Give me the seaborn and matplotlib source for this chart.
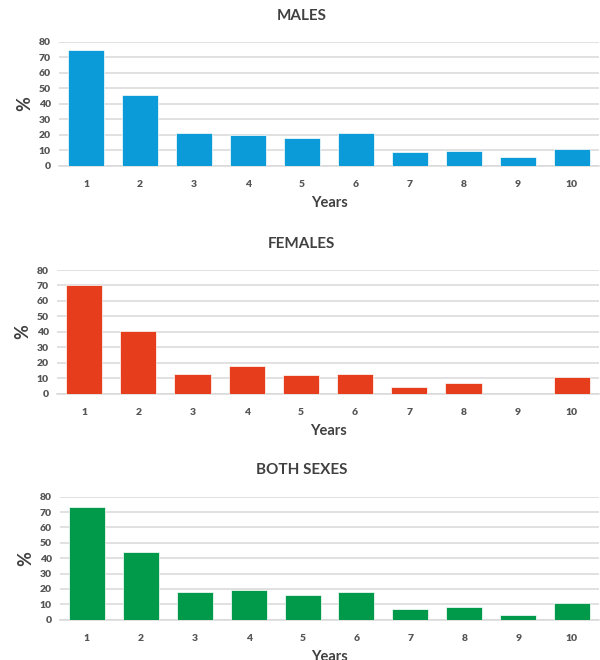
import matplotlib
matplotlib.use("Agg")
import matplotlib.pyplot as plt
import seaborn as sns
import pandas as pd

years = ["1", "2", "3", "4", "5", "6", "7", "8", "9", "10"]
males = [74.5, 45.6, 20.9, 19.6, 18.1, 21.1, 8.8, 9.7, 5.6, 10.5]
females = [70.3, 40.8, 12.8, 18.1, 12.0, 12.9, 4.2, 6.6, 0.0, 11.1]
both = [73.0, 44.2, 18.2, 19.1, 15.9, 18.2, 7.2, 8.4, 3.1, 10.6]
titles = ["MALES", "FEMALES", "BOTH SEXES"]
colors = ["#0A9BD8", "#E63E1C", "#009A4A"]
yticks = [0, 10, 20, 30, 40, 50, 60, 70, 80]

sns.set_theme(style="white")
plt.rcParams["font.family"] = ["Lato", "DejaVu Sans"]

fig = plt.figure(figsize=(6.0, 6.6), dpi=100)
H = 660.0
# (left px, right px, top px, bottom px, title y px)
boxes = [
    (59, 599, 41.7, 165.7, 16),
    (57, 599, 270.0, 393.7, 244),
    (60, 599, 496.7, 619.7, 470),
]
text_col = "#404040"
tick_col = "#555555"
grid_col = "#D9D9D9"

for vals, title, col, (l, r, t, b, ty) in zip([males, females, both], titles, colors, boxes):
    ax = fig.add_axes([l / 600.0, 1 - b / H, (r - l) / 600.0, (b - t) / H])
    df = pd.DataFrame({"Years": years, "pct": vals})
    sns.barplot(data=df, x="Years", y="pct", color=col, saturation=1, width=0.667,
                edgecolor="white", linewidth=0.5, ax=ax, zorder=3)
    ax.set_ylim(0, 80)
    ax.set_xlim(-0.5, 9.5)
    ax.set_yticks(yticks)
    ax.yaxis.grid(True, color=grid_col, linewidth=1.1, zorder=0)
    ax.set_axisbelow(True)
    for s in ["top", "right", "left"]:
        ax.spines[s].set_visible(False)
    ax.spines["bottom"].set_color(grid_col)
    ax.spines["bottom"].set_linewidth(1.1)
    ax.tick_params(axis="both", length=0, labelsize=7.5, labelcolor=tick_col)
    ax.tick_params(axis="x", pad=10)
    ax.tick_params(axis="y", pad=6)
    for lab in ax.get_xticklabels() + ax.get_yticklabels():
        lab.set_fontweight("heavy")
    ax.set_ylabel("%", fontsize=13, fontweight="bold", color=text_col, labelpad=4)
    ax.set_xlabel("Years", fontsize=10.5, fontweight="bold", color=text_col, labelpad=5)
    fig.text(0.503, 1 - ty / H, title, ha="center", va="center", fontsize=11,
             fontweight="bold", color=text_col)

fig.savefig("out.png", dpi=100, facecolor="white")
